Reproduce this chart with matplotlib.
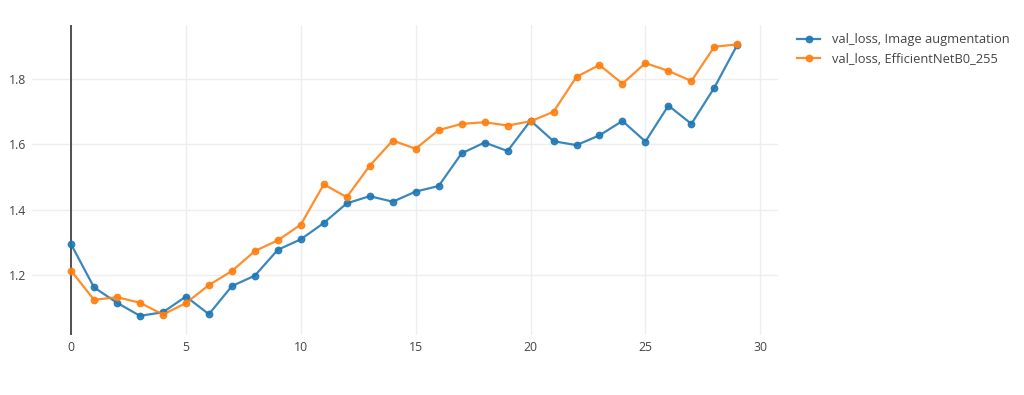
import matplotlib
matplotlib.use("Agg")
import matplotlib.pyplot as plt


EPOCHS = list(range(30))

VAL_LOSS_AUG = [
    1.295, 1.163, 1.116, 1.076, 1.087, 1.135, 1.081, 1.167, 1.199, 1.278,
    1.310, 1.360, 1.420, 1.442, 1.425, 1.456, 1.473, 1.573, 1.606, 1.580,
    1.673, 1.610, 1.598, 1.628, 1.672, 1.609, 1.719, 1.663, 1.774, 1.905,
]

VAL_LOSS_B0 = [
    1.214, 1.125, 1.133, 1.116, 1.080, 1.115, 1.170, 1.213, 1.274, 1.307,
    1.355, 1.478, 1.439, 1.535, 1.612, 1.587, 1.644, 1.663, 1.668, 1.658,
    1.671, 1.700, 1.807, 1.843, 1.786, 1.849, 1.825, 1.794, 1.899, 1.906,
]

LABELS = ["val_loss, Image augmentation", "val_loss, EfficientNetB0_255"]
COLORS = ["#1f77b4", "#ff7f0e"]
X_TICKS = [0, 5, 10, 15, 20, 25, 30]
Y_TICKS = [1.2, 1.4, 1.6, 1.8]

plt.rcParams["font.family"] = ["Open Sans", "DejaVu Sans"]

fig = plt.figure(figsize=(10.24, 3.95), dpi=100)
ax = fig.add_axes([32 / 1024, 60 / 395, 746 / 1024, 310 / 395])

for series, label, color in zip((VAL_LOSS_AUG, VAL_LOSS_B0), LABELS, COLORS):
    ax.plot(EPOCHS, series, color=color, linewidth=1.6, marker="o",
            markersize=4.6, label=label, alpha=0.88, zorder=3)

# zero line of the x axis
ax.axvline(0, color="#444444", linewidth=1.3, zorder=2)

ax.set_xlim(-1.70, 30.77)
ax.set_ylim(1.0174, 1.9654)
ax.set_xticks(X_TICKS)
ax.set_yticks(Y_TICKS)
ax.set_yticklabels([f"{v:.1f}" for v in Y_TICKS])
ax.grid(True, color="#eeeeee", linewidth=1.0, zorder=0)
ax.set_axisbelow(True)
for spine in ax.spines.values():
    spine.set_visible(False)
ax.tick_params(length=0, labelsize=8.8, colors="#444444", pad=4)

fig.legend(loc="upper left", bbox_to_anchor=(792 / 1024, 1 - 28 / 395),
           frameon=False, fontsize=9.3, handlelength=1.8, handletextpad=0.9,
           labelspacing=0.5, borderaxespad=0, labelcolor="#444444")

fig.savefig("out.png", dpi=100)
